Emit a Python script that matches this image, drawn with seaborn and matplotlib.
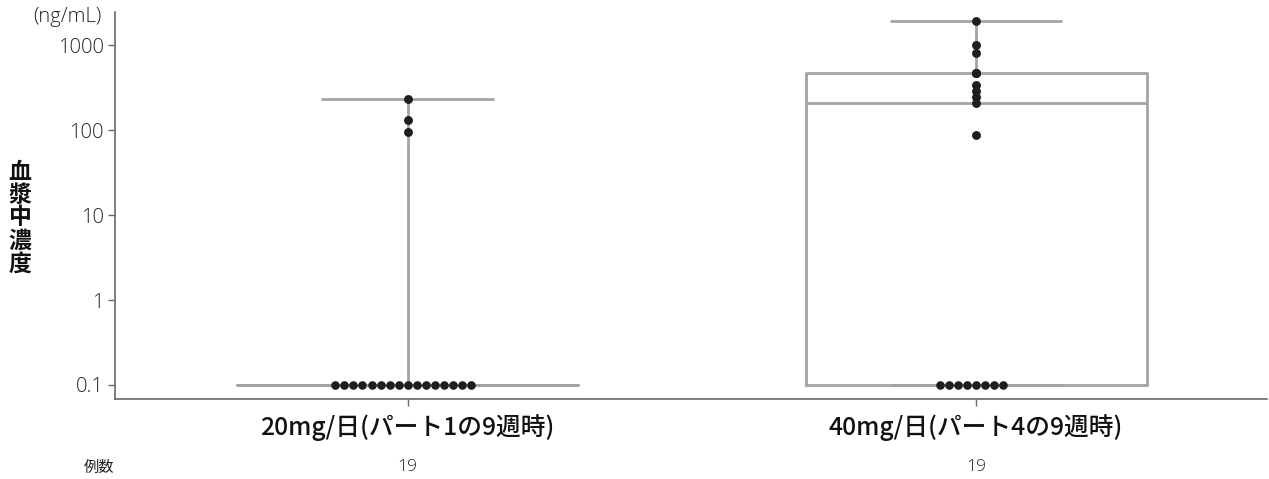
import numpy as np
import pandas as pd
import matplotlib
matplotlib.use("Agg")
import matplotlib.pyplot as plt
import seaborn as sns

# ---- data ----
categories = ["20mg/日(パート1の9週時)", "40mg/日(パート4の9週時)"]
n_labels = ["19", "19"]
group1_values = [0.1] * 16 + [96, 133, 229]
group2_values = [0.1] * 8 + [87, 210, 245, 285, 335, 467, 467, 467, 805, 1000, 1919]
y_ticks = [0.1, 1, 10, 100, 1000]
y_tick_labels = ["0.1", "1", "10", "100", "1000"]
y_unit = "(ng/mL)"
y_title = "血漿中濃度"
n_title = "例数"

df = pd.DataFrame({
    "group": [categories[0]] * len(group1_values) + [categories[1]] * len(group2_values),
    "value": group1_values + group2_values,
})
# many tied values (below-LLOQ) spread side by side, the rest on the centre line
counts = df.groupby(["group", "value"])["value"].transform("count")
tied = df[counts > 4]
single = df[counts <= 4]

sns.set_theme(style="white")
FONT = ["Noto Sans CJK JP", "DejaVu Sans"]
NUMFONT = ["Open Sans", "Noto Sans CJK JP", "DejaVu Sans"]
plt.rcParams["font.family"] = FONT

fig = plt.figure(figsize=(12.69, 4.79), dpi=100)
ax = fig.add_axes([115 / 1269, 1 - 399 / 479, (1267 - 115) / 1269, (399 - 12) / 479])

gray = "#a3a3a3"
sns.boxplot(data=df, x="group", y="value", order=categories, whis=(0, 100),
            fill=False, color=gray, linecolor=gray, linewidth=2.0, width=0.6,
            showfliers=False, log_scale=True, ax=ax,
            medianprops=dict(color=gray, linewidth=2.0))
sns.swarmplot(data=tied, x="group", y="value", order=categories, color="#1e1e1e",
              size=6.2, ax=ax, zorder=5)
sns.stripplot(data=single, x="group", y="value", order=categories, color="#1e1e1e",
              size=6.4, jitter=False, ax=ax, zorder=5)

ax.set_yscale("log")
ax.set_ylim(0.0684, 2450)
ax.set_xlim(-0.515, 1.512)
ax.set_yticks(y_ticks)
ax.set_yticklabels(y_tick_labels)
ax.yaxis.set_minor_locator(matplotlib.ticker.NullLocator())
ax.set_xlabel("")
ax.set_ylabel("")

for s in ["top", "right"]:
    ax.spines[s].set_visible(False)
for s in ["left", "bottom"]:
    ax.spines[s].set_color("#6a6a6a")
    ax.spines[s].set_linewidth(1.2)

ax.tick_params(axis="y", which="major", direction="out", length=5, width=1,
               color="#6a6a6a", labelsize=14.5, labelcolor="#222222", pad=3, left=True)
ax.tick_params(axis="x", which="major", direction="out", length=5, width=1,
               color="#6a6a6a", labelsize=17.8, labelcolor="#111111", pad=6, bottom=True)
for t in ax.get_yticklabels():
    t.set_family(NUMFONT)
    t.set_fontweight("light")
for t in ax.get_xticklabels():
    t.set_fontweight("medium")

# unit label
fig.text(102 / 1269, 1 - 17 / 479, y_unit, ha="right", va="center", fontsize=14.5,
         color="#222222", family=NUMFONT, fontweight="light")
# stacked vertical y title
fig.text(20 / 1269, 1 - 218 / 479, "\n".join(y_title), ha="center", va="center",
         fontsize=16.5, fontweight="bold", color="#111111", family=FONT, linespacing=1.0)
# N row
fig.text(99 / 1269, 1 - 467 / 479, n_title, ha="center", va="center", fontsize=11,
         color="#222222", family=FONT)
for i, lab in enumerate(n_labels):
    xd = ax.transData.transform((i, 1))[0]
    fig.text(xd / fig.bbox.width, 1 - 467 / 479, lab, ha="center", va="center",
             fontsize=12.5, color="#222222", family=NUMFONT, fontweight="light")

fig.savefig("out.png", dpi=100)
